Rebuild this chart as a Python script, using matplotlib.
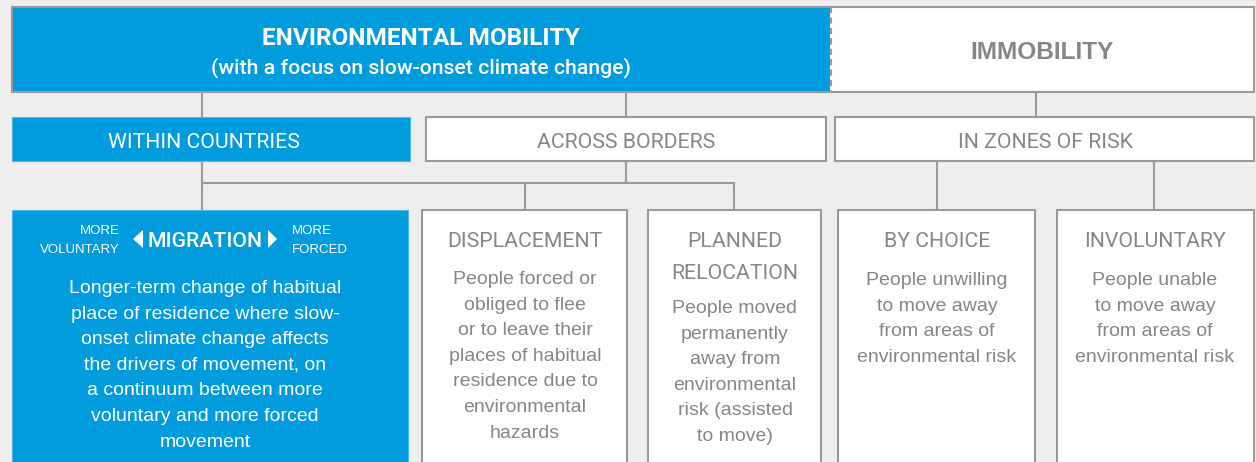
import matplotlib.pyplot as plt
from matplotlib.patches import Rectangle, Polygon

# ---- texts of the diagram ----
top_title = "ENVIRONMENTAL MOBILITY"
top_subtitle = "(with a focus on slow-onset climate change)"
immobility_label = "IMMOBILITY"
level2_labels = ["WITHIN COUNTRIES", "ACROSS BORDERS", "IN ZONES OF RISK"]
level3_titles = [["MIGRATION"], ["DISPLACEMENT"], ["PLANNED", "RELOCATION"],
                 ["BY CHOICE"], ["INVOLUNTARY"]]
level3_texts = [
    ["Longer-term change of habitual", "place of residence where slow-",
     "onset climate change affects", "the drivers of movement, on",
     "a continuum between more", "voluntary and more forced", "movement"],
    ["People forced or", "obliged to flee", "or to leave their",
     "places of habitual", "residence due to", "environmental", "hazards"],
    ["People moved", "permanently", "away from", "environmental",
     "risk (assisted", "to move)"],
    ["People unwilling", "to move away", "from areas of", "environmental risk"],
    ["People unable", "to move away", "from areas of", "environmental risk"],
]
scale_left = ["MORE", "VOLUNTARY"]
scale_right = ["MORE", "FORCED"]

# ---- layout (pixel coordinates, y down) ----
W, H = 1256, 462
BLUE = "#009cde"
BLUE_EDGE = "#4db8e8"
GRAY = "#86868a"
LINE = "#9a9a9a"
BG = "#efefef"
LW = 1.5

top_box = (12, 1254, 7, 92)
split_x = 830
l2_boxes = [(12, 410), (426, 826), (835, 1254)]
l2_y = (117, 161)
l2_text_x = [204, 626, 1045]
l3_boxes = [(12, 408), (422, 627), (648, 821), (838, 1035), (1057, 1254)]
l3_y = (210, 475)
l3_text_x = [205, 525, 735, 937, 1155]
l3_title_base = [247, 247, 247, 247, 247]
l3_body_base = [293, 284, 313, 285, 285]
body_step = 25.6
title_step = 32

fig = plt.figure(figsize=(W / 100, H / 100), dpi=100, facecolor=BG)
ax = fig.add_axes([0, 0, 1, 1])
ax.set_xlim(0, W)
ax.set_ylim(H, 0)
ax.axis("off")
ax.set_facecolor(BG)

cond = ["Roboto", "DejaVu Sans"]
body = ["Liberation Sans", "DejaVu Sans"]

def vline(x, y0, y1):
    ax.plot([x, x], [y0, y1], color=LINE, lw=LW, zorder=1, solid_capstyle="butt")

def hline(x0, x1, y):
    ax.plot([x0, x1], [y, y], color=LINE, lw=LW, zorder=1, solid_capstyle="projecting")

# connectors
for x in [202, 626, 1036]:
    vline(x, top_box[3], l2_y[0])
vline(202, l2_y[1], l3_y[0])
vline(626, l2_y[1], 183)
hline(202, 734, 183)
vline(525, 183, l3_y[0])
vline(734, 183, l3_y[0])
vline(937, l2_y[1], l3_y[0])
vline(1154, l2_y[1], l3_y[0])

# top box
x0, x1, y0, y1 = top_box
ax.add_patch(Rectangle((x0, y0), split_x - x0, y1 - y0, facecolor=BLUE, edgecolor="none", zorder=2))
ax.add_patch(Rectangle((split_x, y0), x1 - split_x, y1 - y0, facecolor="white", edgecolor="none", zorder=2))
ax.add_patch(Rectangle((x0, y0), x1 - x0, y1 - y0, facecolor="none", edgecolor=LINE, lw=LW, zorder=3))
ax.plot([split_x + 1, split_x + 1], [y0, y1], color=LINE, lw=1.5, ls=(0, (3, 2)), zorder=3)
ax.text((x0 + split_x) / 2, 45, top_title, color="white", fontsize=17.6, fontweight="bold",
        family=cond, ha="center", va="baseline", zorder=4)
ax.text((x0 + split_x) / 2, 73, top_subtitle, color="white", fontsize=15.3, fontweight="medium",
        family=cond, ha="center", va="baseline", zorder=4)
ax.text((split_x + x1) / 2, 59, immobility_label, color=GRAY, fontsize=17.6, fontweight="bold",
        family=body, ha="center", va="baseline", zorder=4)

# level 2
for i, ((bx0, bx1), lab) in enumerate(zip(l2_boxes, level2_labels)):
    if i == 0:
        ax.add_patch(Rectangle((bx0, l2_y[0]), bx1 - bx0, l2_y[1] - l2_y[0],
                               facecolor=BLUE, edgecolor=BLUE_EDGE, lw=0.8, zorder=2))
        col = "white"
    else:
        ax.add_patch(Rectangle((bx0, l2_y[0]), bx1 - bx0, l2_y[1] - l2_y[0],
                               facecolor="white", edgecolor=LINE, lw=LW, zorder=2))
        col = GRAY
    ax.text(l2_text_x[i], 148, lab, color=col, fontsize=15.3, family=cond,
            ha="center", va="baseline", zorder=4)

# level 3
for i, (bx0, bx1) in enumerate(l3_boxes):
    if i == 0:
        ax.add_patch(Rectangle((bx0, l3_y[0]), bx1 - bx0, l3_y[1] - l3_y[0],
                               facecolor=BLUE, edgecolor=BLUE_EDGE, lw=0.8, zorder=2))
        col = "white"
    else:
        ax.add_patch(Rectangle((bx0, l3_y[0]), bx1 - bx0, l3_y[1] - l3_y[0],
                               facecolor="white", edgecolor=LINE, lw=LW, zorder=2))
        col = GRAY
    cx = l3_text_x[i]
    for j, t in enumerate(level3_titles[i]):
        ax.text(cx, l3_title_base[i] + j * title_step, t, color=col, fontsize=15.3,
                family=cond, fontweight="medium" if i == 0 else "normal",
                ha="center", va="baseline", zorder=4)
    for j, t in enumerate(level3_texts[i]):
        ax.text(cx, l3_body_base[i] + j * body_step, t, color=col, fontsize=14,
                family=body, ha="center", va="baseline", zorder=4)

# migration scale: arrows and side labels
cx = l3_text_x[0]
ax.add_patch(Polygon([(cx - 72, 239), (cx - 62, 230), (cx - 62, 248)], closed=True,
                     facecolor="white", edgecolor="none", zorder=4))
ax.add_patch(Polygon([(cx + 72, 239), (cx + 63, 230), (cx + 63, 248)], closed=True,
                     facecolor="white", edgecolor="none", zorder=4))
for j, t in enumerate(scale_left):
    ax.text(cx - 85, 234 + j * 19, t, color="white", fontsize=9.5, family=body,
            ha="right", va="baseline", zorder=4)
for j, t in enumerate(scale_right):
    ax.text(cx + 87, 234 + j * 19, t, color="white", fontsize=9.5, family=body,
            ha="left", va="baseline", zorder=4)

fig.savefig("out.png", dpi=100, facecolor=BG)
